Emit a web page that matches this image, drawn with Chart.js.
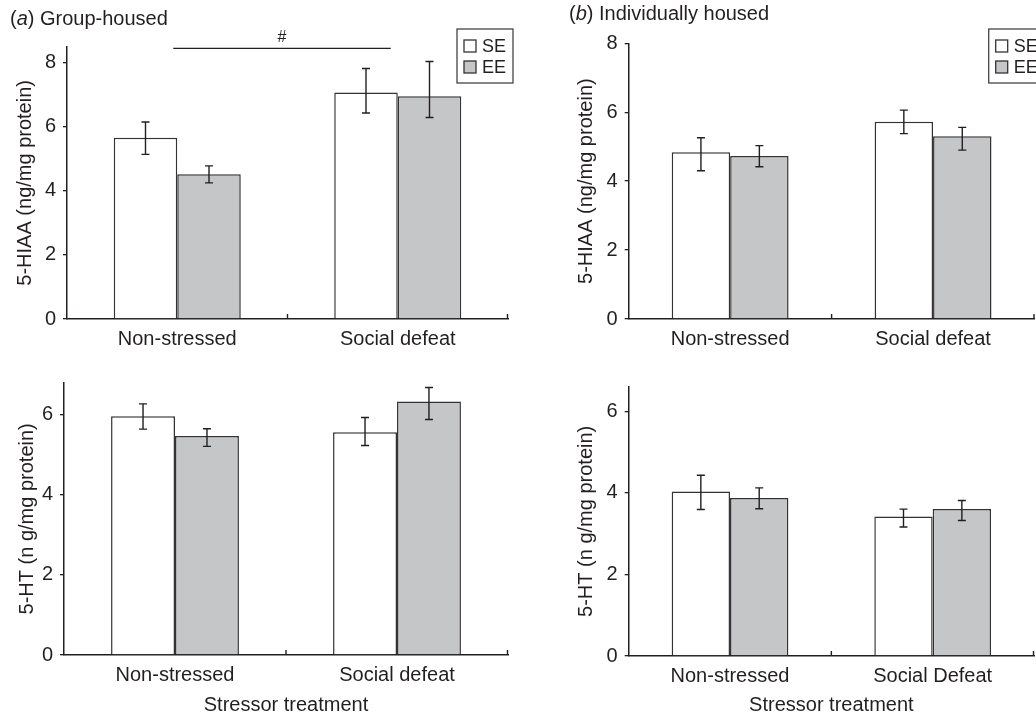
<!DOCTYPE html>
<html>
<head>
<meta charset="utf-8">
<script src="https://cdn.jsdelivr.net/npm/chart.js@4.4.1/dist/chart.umd.min.js"></script>
<style>
  body { margin: 0; background: #fff; }
  #wrap { position: relative; width: 1036px; height: 717px; overflow: hidden; }
  canvas { position: absolute; }
</style>
</head>
<body>
<div id="wrap">
  <canvas id="aTop" width="518" height="350" style="left:0;top:0"></canvas>
  <canvas id="aBottom" width="518" height="357" style="left:0;top:360px"></canvas>
  <canvas id="bTop" width="496" height="350" style="left:540px;top:0"></canvas>
  <canvas id="bBottom" width="496" height="357" style="left:540px;top:360px"></canvas>
</div>
<script>
// categories
const stressors = ['Non-stressed', 'Social defeat'];
const stressorsB = ['Non-stressed', 'Social Defeat'];
const groups = ['SE', 'EE'];

// (a) group-housed, 5-HIAA
const hiaaGroupSE = [5.66, 7.07];
const hiaaGroupSELo = [5.14, 6.43];
const hiaaGroupSEHi = [6.15, 7.82];
const hiaaGroupEE = [4.52, 6.95];
const hiaaGroupEELo = [4.25, 6.29];
const hiaaGroupEEHi = [4.78, 8.04];

// (a) group-housed, 5-HT
const htGroupSE = [5.96, 5.56];
const htGroupSELo = [5.64, 5.23];
const htGroupSEHi = [6.27, 5.93];
const htGroupEE = [5.47, 6.33];
const htGroupEELo = [5.21, 5.88];
const htGroupEEHi = [5.65, 6.68];

// (b) individually housed, 5-HIAA
const hiaaSingleSE = [4.84, 5.72];
const hiaaSingleSELo = [4.30, 5.38];
const hiaaSingleSEHi = [5.26, 6.06];
const hiaaSingleEE = [4.73, 5.30];
const hiaaSingleEELo = [4.42, 4.90];
const hiaaSingleEEHi = [5.03, 5.56];

// (b) individually housed, 5-HT
const htSingleSE = [4.03, 3.42];
const htSingleSELo = [3.59, 3.16];
const htSingleSEHi = [4.43, 3.60];
const htSingleEE = [3.87, 3.60];
const htSingleEELo = [3.61, 3.32];
const htSingleEEHi = [4.12, 3.81];

const yTicks = [0, 2, 4, 6, 8];

const FONT = '"Liberation Sans", Arial, Helvetica, sans-serif';
const INK = '#231f20';
const GREY = '#c5c6c8';

const errorBars = {
  id: 'errorBars',
  afterDatasetsDraw(chart) {
    const ctx = chart.ctx;
    const y = chart.scales.y;
    chart.data.datasets.forEach((ds, i) => {
      chart.getDatasetMeta(i).data.forEach((bar, j) => {
        const top = y.getPixelForValue(ds.errHi[j]);
        const bot = y.getPixelForValue(ds.errLo[j]);
        ctx.save();
        ctx.strokeStyle = INK;
        ctx.lineWidth = 1.4;
        ctx.beginPath();
        ctx.moveTo(bar.x, top); ctx.lineTo(bar.x, bot);
        ctx.moveTo(bar.x - 4, top); ctx.lineTo(bar.x + 4, top);
        ctx.moveTo(bar.x - 4, bot); ctx.lineTo(bar.x + 4, bot);
        ctx.stroke();
        ctx.restore();
      });
    });
  }
};

// panel title, legend box, small inward x ticks, significance bar
const decor = {
  id: 'decor',
  afterDraw(chart, args, opts) {
    const ctx = chart.ctx;
    const x = chart.scales.x, y = chart.scales.y;
    ctx.save();
    ctx.strokeStyle = INK;
    ctx.fillStyle = INK;
    ctx.lineWidth = 1.4;

    // inward ticks on x axis
    ctx.beginPath();
    [(x.left + x.right) / 2, x.right - 0.5].forEach(px => {
      ctx.moveTo(px, y.bottom);
      ctx.lineTo(px, y.bottom - 5);
    });
    ctx.stroke();

    if (opts.title) {
      ctx.font = '20px ' + FONT;
      ctx.textBaseline = 'alphabetic';
      let tx = opts.title.x;
      ctx.fillText('(', tx, opts.title.y);
      tx += ctx.measureText('(').width;
      ctx.font = 'italic 20px ' + FONT;
      ctx.fillText(opts.title.letter, tx, opts.title.y);
      tx += ctx.measureText(opts.title.letter).width;
      ctx.font = '20px ' + FONT;
      ctx.fillText(') ' + opts.title.text, tx, opts.title.y);
    }

    if (opts.legend) {
      const L = opts.legend;
      ctx.lineWidth = 1.3;
      ctx.strokeStyle = '#444';
      ctx.strokeRect(L.x, L.y, L.w, L.h);
      ctx.font = '18px ' + FONT;
      ctx.textBaseline = 'middle';
      chart.data.datasets.forEach((ds, i) => {
        const cy = L.y + 17 + i * 21;
        ctx.fillStyle = ds.backgroundColor;
        ctx.fillRect(L.x + 7, cy - 6, 12, 12);
        ctx.strokeStyle = '#333';
        ctx.strokeRect(L.x + 7, cy - 6, 12, 12);
        ctx.fillStyle = INK;
        ctx.fillText(ds.label, L.x + 25, cy + 1);
      });
    }

    if (opts.sig) {
      const py = y.getPixelForValue(opts.sig.value);
      const x1 = x.getPixelForValue(0) - 4;
      const x2 = x.getPixelForValue(1) - 7;
      ctx.strokeStyle = INK;
      ctx.lineWidth = 1.3;
      ctx.beginPath();
      ctx.moveTo(x1, py); ctx.lineTo(x2, py);
      ctx.stroke();
      ctx.font = '16px ' + FONT;
      ctx.textAlign = 'center';
      ctx.textBaseline = 'alphabetic';
      ctx.fillText(opts.sig.label, (x1 + x2) / 2, py - 6);
    }
    ctx.restore();
  }
};

function makePanel(id, cfg) {
  const ctx = document.getElementById(id).getContext('2d');
  return new Chart(ctx, {
    type: 'bar',
    data: {
      labels: cfg.labels,
      datasets: [
        {
          label: groups[0], data: cfg.se, errLo: cfg.seLo, errHi: cfg.seHi,
          backgroundColor: '#ffffff', borderColor: '#333', borderWidth: 1.5,
          categoryPercentage: 0.576, barPercentage: 1.0
        },
        {
          label: groups[1], data: cfg.ee, errLo: cfg.eeLo, errHi: cfg.eeHi,
          backgroundColor: GREY, borderColor: '#333', borderWidth: 1.5,
          categoryPercentage: 0.576, barPercentage: 1.0
        }
      ]
    },
    options: {
      responsive: false,
      animation: false,
      layout: { padding: { top: cfg.padTop, right: cfg.padRight, left: 0, bottom: 0 } },
      plugins: {
        legend: { display: false },
        tooltip: { enabled: false },
        decor: cfg.decor
      },
      scales: {
        x: {
          grid: { display: false, drawTicks: false },
          border: { display: true, color: INK, width: 1.5 },
          ticks: { font: { family: FONT, size: 20 }, color: INK, padding: 8 },
          title: cfg.xTitle ? {
            display: true, text: cfg.xTitle, color: INK,
            font: { family: FONT, size: 20 }, padding: { top: 0, bottom: 0 }
          } : { display: false },
          afterFit: s => { s.height = cfg.xHeight; }
        },
        y: {
          min: 0,
          max: cfg.yMax,
          grid: { display: true, drawOnChartArea: false, drawTicks: true, tickLength: 4, color: INK, lineWidth: 1.3 },
          border: { display: true, color: INK, width: 1.5 },
          afterBuildTicks: s => { s.ticks = yTicks.filter(v => v <= cfg.yMax).map(v => ({ value: v })); },
          ticks: { font: { family: FONT, size: 20 }, color: INK, padding: 7 },
          title: {
            display: true, text: cfg.yTitle, color: INK,
            font: { family: FONT, size: 20 }, padding: { top: cfg.yTitlePad, bottom: 0 }
          },
          afterFit: s => { s.width = cfg.yWidth; }
        }
      }
    },
    plugins: [errorBars, decor]
  });
}

makePanel('aTop', {
  labels: stressors,
  se: hiaaGroupSE, seLo: hiaaGroupSELo, seHi: hiaaGroupSEHi,
  ee: hiaaGroupEE, eeLo: hiaaGroupEELo, eeHi: hiaaGroupEEHi,
  yMax: 8.5, yTitle: '5-HIAA (ng/mg protein)',
  padTop: 46.7, padRight: 10, xHeight: 31, yWidth: 67, yTitlePad: 13,
  decor: {
    title: { x: 10, y: 25, letter: 'a', text: 'Group-housed' },
    legend: { x: 457, y: 29, w: 56, h: 54 },
    sig: { value: 8.45, label: '#' }
  }
});

makePanel('aBottom', {
  labels: stressors,
  se: htGroupSE, seLo: htGroupSELo, seHi: htGroupSEHi,
  ee: htGroupEE, eeLo: htGroupEELo, eeHi: htGroupEEHi,
  yMax: 6.8, yTitle: '5-HT (n g/mg protein)', xTitle: 'Stressor treatment',
  padTop: 22.7, padRight: 10, xHeight: 62, yWidth: 64, yTitlePad: 15,
  decor: {}
});

makePanel('bTop', {
  labels: stressors,
  se: hiaaSingleSE, seLo: hiaaSingleSELo, seHi: hiaaSingleSEHi,
  ee: hiaaSingleEE, eeLo: hiaaSingleEELo, eeHi: hiaaSingleEEHi,
  yMax: 8, yTitle: '5-HIAA (ng/mg protein)',
  padTop: 43.3, padRight: 1.5, xHeight: 31, yWidth: 88.7, yTitlePad: 34,
  decor: {
    title: { x: 29, y: 20, letter: 'b', text: 'Individually housed' },
    legend: { x: 448.7, y: 29, w: 60, h: 54 }
  }
});

makePanel('bBottom', {
  labels: stressorsB,
  se: htSingleSE, seLo: htSingleSELo, seHi: htSingleSEHi,
  ee: htSingleEE, eeLo: htSingleEELo, eeHi: htSingleEEHi,
  yMax: 6.6, yTitle: '5-HT (n g/mg protein)', xTitle: 'Stressor treatment',
  padTop: 26.7, padRight: 2, xHeight: 61, yWidth: 88.7, yTitlePad: 34,
  decor: {}
});
</script>
</body>
</html>
